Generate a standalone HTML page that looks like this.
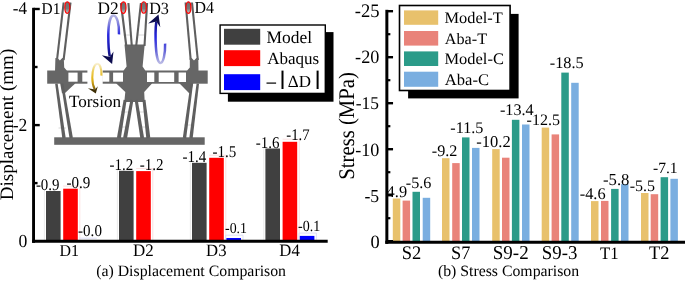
<!DOCTYPE html>
<html><head><meta charset="utf-8"><style>
html,body{margin:0;padding:0;background:#fff;}
body{width:685px;height:281px;overflow:hidden;font-family:"Liberation Serif", serif;}
svg{display:block;will-change:transform;text-rendering:geometricPrecision;}
</style></head><body>
<svg width="685" height="281" viewBox="0 0 685 281">
<rect x="0" y="0" width="685" height="281" fill="#fff"/>
<rect x="54.20" y="137.30" width="150.50" height="7.50" fill="#666666" />
<line x1="58.5" y1="128" x2="66" y2="128" stroke="#d8d8d8" stroke-width="1"/>
<line x1="121" y1="112" x2="129" y2="112" stroke="#d8d8d8" stroke-width="1"/>
<line x1="119.5" y1="127" x2="126.5" y2="127" stroke="#d8d8d8" stroke-width="1"/>
<line x1="139" y1="112" x2="146" y2="112" stroke="#d8d8d8" stroke-width="1"/>
<line x1="141" y1="127" x2="148.5" y2="127" stroke="#d8d8d8" stroke-width="1"/>
<line x1="184.5" y1="125" x2="191.5" y2="125" stroke="#d8d8d8" stroke-width="1"/>
<line x1="123.5" y1="35" x2="130" y2="35" stroke="#d8d8d8" stroke-width="1"/>
<line x1="138" y1="35" x2="145" y2="35" stroke="#d8d8d8" stroke-width="1"/>
<rect x="47.20" y="70.50" width="160.50" height="13.20" fill="#666666" />
<rect x="68.40" y="72.60" width="9.20" height="9.10" fill="#fff" />
<rect x="82.30" y="72.60" width="5.70" height="9.10" fill="#fff" />
<rect x="102.20" y="72.60" width="7.10" height="9.10" fill="#fff" />
<rect x="113.10" y="72.60" width="9.90" height="9.10" fill="#fff" />
<rect x="147.00" y="72.50" width="7.30" height="9.50" fill="#fff" />
<rect x="158.70" y="72.50" width="15.50" height="9.50" fill="#fff" />
<rect x="178.60" y="72.50" width="7.40" height="9.50" fill="#fff" />
<rect x="87.40" y="69.50" width="15.30" height="15.00" fill="#fff" />
<line x1="63.65" y1="2.50" x2="57.00" y2="60.00" stroke="#5f5f5f" stroke-width="2.1"/>
<line x1="70.50" y1="2.50" x2="63.60" y2="60.00" stroke="#5f5f5f" stroke-width="2.1"/>
<polygon points="55.40,58.00 57.60,58.00 59.90,60.60 62.30,58.00 63.80,58.00 64.20,67.50 66.80,70.60 66.80,72.00 55.00,72.00" fill="#666666"/>
<polygon points="60.00,82.50 75.20,82.50 75.20,83.50 64.80,93.20 62.00,93.20" fill="#666666"/>
<polygon points="55.16,83.77 62.32,138.24 65.68,137.76 57.64,83.43" fill="#5f5f5f"/>
<polygon points="60.97,83.80 69.52,138.28 72.88,137.72 63.43,83.40" fill="#5f5f5f"/>
<polygon points="124.50,44.60 144.70,44.60 142.60,66.50 145.30,70.60 145.30,72.00 123.60,72.00 123.60,70.60 126.60,66.50" fill="#666666"/>
<polygon points="116.30,82.50 152.00,82.50 152.00,83.50 144.20,92.00 144.70,102.00 124.30,102.00 125.30,92.00 116.30,83.50" fill="#666666"/>
<line x1="120.90" y1="3.00" x2="126.30" y2="46.00" stroke="#5f5f5f" stroke-width="2.1"/>
<line x1="128.40" y1="3.00" x2="131.80" y2="46.00" stroke="#5f5f5f" stroke-width="2.1"/>
<line x1="140.90" y1="3.00" x2="136.20" y2="46.00" stroke="#5f5f5f" stroke-width="2.1"/>
<line x1="147.10" y1="3.00" x2="144.50" y2="46.00" stroke="#5f5f5f" stroke-width="2.1"/>
<polygon points="123.62,99.76 116.93,137.68 120.87,138.32 126.58,100.24" fill="#5f5f5f"/>
<polygon points="130.42,99.74 123.13,137.65 127.07,138.35 133.38,100.26" fill="#5f5f5f"/>
<polygon points="134.72,100.23 140.32,138.30 144.08,137.70 137.68,99.77" fill="#5f5f5f"/>
<polygon points="142.51,100.17 146.31,138.22 150.29,137.78 145.49,99.83" fill="#5f5f5f"/>
<line x1="185.60" y1="2.50" x2="190.70" y2="60.00" stroke="#5f5f5f" stroke-width="2.1"/>
<line x1="192.00" y1="2.50" x2="197.80" y2="60.00" stroke="#5f5f5f" stroke-width="2.1"/>
<polygon points="189.80,58.00 191.60,58.00 194.00,60.60 196.40,58.00 198.30,58.00 198.50,72.00 187.20,72.00 187.20,70.60 189.80,67.50" fill="#666666"/>
<polygon points="179.60,82.50 193.20,82.50 193.20,83.50 190.60,93.20 189.20,93.20 179.60,83.50" fill="#666666"/>
<polygon points="190.56,83.43 182.82,137.77 186.18,138.23 193.04,83.77" fill="#5f5f5f"/>
<polygon points="196.56,83.44 189.31,137.79 192.69,138.21 199.04,83.76" fill="#5f5f5f"/>
<linearGradient id="ge" x1="0" y1="0" x2="0" y2="1"><stop offset="0" stop-color="#6c6c6c"/><stop offset="0.6" stop-color="#7a7a7a"/><stop offset="1" stop-color="#c8c8c8"/></linearGradient>
<ellipse cx="67.3" cy="7.55" rx="2.5" ry="5.75" fill="url(#ge)" stroke="#ff0000" stroke-width="1.2"/>
<ellipse cx="123.5" cy="7.7" rx="2.5" ry="5.75" fill="url(#ge)" stroke="#ff0000" stroke-width="1.2"/>
<ellipse cx="143.8" cy="7.5" rx="2.5" ry="5.75" fill="url(#ge)" stroke="#ff0000" stroke-width="1.2"/>
<ellipse cx="188.4" cy="7.6" rx="2.5" ry="5.75" fill="url(#ge)" stroke="#ff0000" stroke-width="1.2"/>
<linearGradient id="gy" gradientUnits="userSpaceOnUse" x1="0" y1="63" x2="0" y2="93"><stop offset="0" stop-color="#faf3dc"/><stop offset="0.12" stop-color="#f3e29c"/><stop offset="0.3" stop-color="#ecca50"/><stop offset="0.55" stop-color="#e3b414"/><stop offset="0.8" stop-color="#a07c10"/><stop offset="1" stop-color="#3a2c06"/></linearGradient>
<path d="M101.4,75.6 C101.7,68 99.8,63.8 97.4,63.8 C94.2,63.8 92.3,70 92.3,77.5 C92.3,83 93.5,87 94.8,89.5" fill="none" stroke="url(#gy)" stroke-width="2.1"/>
<path d="M87.9,88.2 L95.8,93.6 L97.8,86.3 L95.0,89.6 Z" fill="#3d2e05"/>
<linearGradient id="gb1" gradientUnits="userSpaceOnUse" x1="0" y1="15" x2="0" y2="63"><stop offset="0" stop-color="#b8b8e2"/><stop offset="0.18" stop-color="#8282dc"/><stop offset="0.4" stop-color="#2a2ae0"/><stop offset="0.7" stop-color="#1a1ab0"/><stop offset="1" stop-color="#0c0c4e"/></linearGradient>
<path d="M119.0,34.4 C119.4,24 116.8,15.4 113.6,15.4 C110.0,15.4 108.3,25 108.3,36 C108.3,45 108.8,51.5 109.8,56.5" fill="none" stroke="url(#gb1)" stroke-width="2.5"/>
<path d="M101.8,55.3 L112.1,64 L113.5,51.4 L109.9,56.9 Z" fill="#0c0c4e"/>
<linearGradient id="gb2" gradientUnits="userSpaceOnUse" x1="0" y1="15" x2="0" y2="64"><stop offset="0" stop-color="#0c0c4e"/><stop offset="0.2" stop-color="#1818a0"/><stop offset="0.45" stop-color="#2626e0"/><stop offset="0.75" stop-color="#6a6ad8"/><stop offset="1" stop-color="#c0c0e6"/></linearGradient>
<path d="M156.3,21.5 C155.5,28 155.4,38 155.9,47 C156.4,56 158,63 160.4,63 C163.2,63 165.4,54 165.1,43.6" fill="none" stroke="url(#gb2)" stroke-width="2.5"/>
<path d="M148.2,23.4 L158.5,14.5 L160.3,27.3 L156.4,21.6 Z" fill="#0c0c4e"/>
<path d="M44.40,241.2 V190.40" stroke="#e8e8e8" stroke-width="0.9" fill="none"/>
<rect x="46.00" y="191.00" width="14.60" height="50.20" fill="#404040" />
<path d="M63.20,186.10 H79.80 V241.2" stroke="#fadcdc" stroke-width="0.9" fill="none"/>
<rect x="63.20" y="188.70" width="14.60" height="52.50" fill="#ff0000" />
<path d="M78.90,238.2 H96.80" stroke="#dcdcf6" stroke-width="0.9" fill="none"/>
<path d="M117.40,241.2 V170.20" stroke="#e8e8e8" stroke-width="0.9" fill="none"/>
<rect x="119.00" y="170.80" width="14.60" height="70.40" fill="#404040" />
<path d="M136.20,168.50 H152.80 V241.2" stroke="#fadcdc" stroke-width="0.9" fill="none"/>
<rect x="136.20" y="171.10" width="14.60" height="70.10" fill="#ff0000" />
<path d="M190.40,241.2 V162.20" stroke="#e8e8e8" stroke-width="0.9" fill="none"/>
<rect x="192.00" y="162.80" width="14.60" height="78.40" fill="#404040" />
<path d="M209.20,155.20 H225.80 V241.2" stroke="#fadcdc" stroke-width="0.9" fill="none"/>
<rect x="209.20" y="157.80" width="14.60" height="83.40" fill="#ff0000" />
<path d="M225.60,241.2 V235.20 H243.00 V241.2" stroke="#dcdcf6" stroke-width="0.9" fill="none"/>
<rect x="226.40" y="238.00" width="14.60" height="3.20" fill="#0000ff" />
<path d="M263.80,241.2 V147.90" stroke="#e8e8e8" stroke-width="0.9" fill="none"/>
<rect x="265.40" y="148.50" width="14.60" height="92.70" fill="#404040" />
<path d="M282.60,139.20 H299.20 V241.2" stroke="#fadcdc" stroke-width="0.9" fill="none"/>
<rect x="282.60" y="141.80" width="14.60" height="99.40" fill="#ff0000" />
<path d="M299.00,241.2 V233.10 H316.40 V241.2" stroke="#dcdcf6" stroke-width="0.9" fill="none"/>
<rect x="299.80" y="235.90" width="14.60" height="5.30" fill="#0000ff" />
<line x1="33.55" y1="7.8" x2="33.55" y2="242.8" stroke="#000" stroke-width="2.9"/>
<line x1="32.1" y1="241.2" x2="327.7" y2="241.2" stroke="#000" stroke-width="3.1"/>
<line x1="33.55" y1="9.0" x2="39.75" y2="9.0" stroke="#000" stroke-width="2.4"/>
<line x1="33.55" y1="125.1" x2="39.75" y2="125.1" stroke="#000" stroke-width="2.4"/>
<line x1="33.55" y1="67.0" x2="37.55" y2="67.0" stroke="#000" stroke-width="2.4"/>
<line x1="33.55" y1="183.1" x2="37.55" y2="183.1" stroke="#000" stroke-width="2.4"/>
<g font-family='"Liberation Serif", serif' fill="#000">
<text transform="translate(12.72,13.90) scale(1.0000,1.0500)" font-size="17.05">-4</text>
<text transform="translate(12.70,130.90) scale(1.0000,1.0500)" font-size="17.55">-2</text>
<text transform="translate(18.58,247.02) scale(1.0000,1.0500)" font-size="17.70">0</text>
<text transform="translate(13.2,124.5) rotate(-90)" font-size="19" text-anchor="middle">Displacement (mm)</text>
<text transform="translate(59.59,255.67) scale(1.0000,1.0400)" font-size="15.97">D1</text>
<text transform="translate(133.06,255.57) scale(1.0000,1.0400)" font-size="16.96">D2</text>
<text transform="translate(206.07,255.53) scale(1.0000,1.0400)" font-size="16.72">D3</text>
<text transform="translate(279.37,255.87) scale(1.0000,1.0400)" font-size="16.73">D4</text>
<text transform="translate(35.90,189.67) scale(1.0000,1.1000)" font-size="14.88">-0.9</text>
<text transform="translate(66.49,187.87) scale(1.0000,1.1000)" font-size="15.08">-0.9</text>
<text transform="translate(78.09,235.67) scale(1.0000,1.1000)" font-size="15.05">-0.0</text>
<text transform="translate(109.49,169.77) scale(1.0000,1.1000)" font-size="14.96">-1.2</text>
<text transform="translate(139.69,169.77) scale(1.0000,1.1000)" font-size="15.03">-1.2</text>
<text transform="translate(182.49,161.97) scale(1.0000,1.1000)" font-size="15.03">-1.4</text>
<text transform="translate(212.49,156.97) scale(1.0000,1.1000)" font-size="15.06">-1.5</text>
<text transform="translate(225.04,232.78) scale(1.0000,1.1000)" font-size="13.86">-0.1</text>
<text transform="translate(255.79,147.97) scale(1.0000,1.1000)" font-size="14.97">-1.6</text>
<text transform="translate(286.30,140.47) scale(1.0000,1.1000)" font-size="14.77">-1.7</text>
<text transform="translate(298.03,231.08) scale(1.0000,1.1000)" font-size="14.00">-0.1</text>
<text transform="translate(41.51,14.27) scale(1.0000,1.0600)" font-size="15.44">D1</text>
<text transform="translate(97.55,13.87) scale(1.0000,1.0200)" font-size="17.31">D2</text>
<text transform="translate(149.18,13.73) scale(1.0000,1.0600)" font-size="16.20">D3</text>
<text transform="translate(194.59,13.07) scale(1.0000,1.0600)" font-size="15.96">D4</text>
<text transform="translate(69.04,107.43) scale(1.0000,1.0000)" font-size="17.12">Torsion</text>
<text transform="translate(96.15,276.40) scale(1.0000,1.0000)" font-size="15.83">(a) Displacement Comparison</text>
</g>
<rect x="227.90" y="32.10" width="105.60" height="69.60" fill="#000" />
<rect x="220.1" y="25.0" width="105.2" height="68.4" fill="#fff" stroke="#000" stroke-width="1.4"/>
<rect x="224.00" y="28.80" width="36.20" height="15.90" fill="#404040" />
<rect x="224.00" y="50.20" width="36.20" height="15.90" fill="#ff0000" />
<rect x="224.00" y="74.20" width="36.20" height="15.90" fill="#0000ff" />
<g font-family='"Liberation Serif", serif' fill="#000">
<text transform="translate(266.45,42.53) scale(1.0000,1.0000)" font-size="17.45">Model</text>
<text transform="translate(267.18,63.90) scale(1.0000,1.0000)" font-size="17.05">Abaqus</text>
<rect x="266.50" y="82.50" width="9.60" height="1.20" fill="#000" />
<rect x="281.50" y="70.60" width="2.00" height="18.40" fill="#000" />
<rect x="316.60" y="70.60" width="2.00" height="18.40" fill="#000" />
<text transform="translate(287.80,87.37) scale(1.0000,1.0000)" font-size="17.01">ΔD</text>
</g>
<clipPath id="clipR"><rect x="386.6" y="0" width="300" height="281"/></clipPath>
<rect x="392.80" y="198.50" width="7.50" height="43.70" fill="#e8c16c" />
<rect x="402.60" y="200.60" width="7.50" height="41.60" fill="#e9837a" />
<rect x="412.50" y="191.80" width="7.50" height="50.40" fill="#2b9b89" />
<rect x="422.70" y="197.80" width="7.50" height="44.40" fill="#7aaee0" />
<rect x="442.00" y="158.20" width="7.50" height="84.00" fill="#e8c16c" />
<rect x="452.20" y="163.10" width="7.50" height="79.10" fill="#e9837a" />
<rect x="462.00" y="137.40" width="7.50" height="104.80" fill="#2b9b89" />
<rect x="472.00" y="147.90" width="7.50" height="94.30" fill="#7aaee0" />
<rect x="492.20" y="149.10" width="7.50" height="93.10" fill="#e8c16c" />
<rect x="502.00" y="157.70" width="7.50" height="84.50" fill="#e9837a" />
<rect x="511.90" y="119.80" width="7.50" height="122.40" fill="#2b9b89" />
<rect x="522.00" y="124.50" width="7.50" height="117.70" fill="#7aaee0" />
<rect x="541.70" y="127.60" width="7.50" height="114.60" fill="#e8c16c" />
<rect x="551.60" y="134.40" width="7.50" height="107.80" fill="#e9837a" />
<rect x="561.30" y="72.60" width="7.50" height="169.60" fill="#2b9b89" />
<rect x="571.20" y="82.80" width="7.50" height="159.40" fill="#7aaee0" />
<rect x="591.00" y="201.10" width="7.50" height="41.10" fill="#e8c16c" />
<rect x="601.00" y="200.90" width="7.50" height="41.30" fill="#e9837a" />
<rect x="611.10" y="188.90" width="7.50" height="53.30" fill="#2b9b89" />
<rect x="621.00" y="184.20" width="7.50" height="58.00" fill="#7aaee0" />
<rect x="641.00" y="193.00" width="7.50" height="49.20" fill="#e8c16c" />
<rect x="650.70" y="194.20" width="7.50" height="48.00" fill="#e9837a" />
<rect x="660.60" y="177.20" width="7.50" height="65.00" fill="#2b9b89" />
<rect x="670.40" y="178.80" width="7.50" height="63.40" fill="#7aaee0" />
<line x1="386.85" y1="9.8" x2="386.85" y2="243.85" stroke="#000" stroke-width="3.0"/>
<line x1="385.3" y1="242.35" x2="685" y2="242.35" stroke="#000" stroke-width="3.0"/>
<line x1="386.85" y1="241.20" x2="393.05" y2="241.20" stroke="#000" stroke-width="2.4"/>
<line x1="386.85" y1="195.20" x2="393.05" y2="195.20" stroke="#000" stroke-width="2.4"/>
<line x1="386.85" y1="149.20" x2="393.05" y2="149.20" stroke="#000" stroke-width="2.4"/>
<line x1="386.85" y1="103.20" x2="393.05" y2="103.20" stroke="#000" stroke-width="2.4"/>
<line x1="386.85" y1="57.20" x2="393.05" y2="57.20" stroke="#000" stroke-width="2.4"/>
<line x1="386.85" y1="11.20" x2="393.05" y2="11.20" stroke="#000" stroke-width="2.4"/>
<line x1="386.85" y1="218.20" x2="390.35" y2="218.20" stroke="#000" stroke-width="2.2"/>
<line x1="386.85" y1="172.20" x2="390.35" y2="172.20" stroke="#000" stroke-width="2.2"/>
<line x1="386.85" y1="126.20" x2="390.35" y2="126.20" stroke="#000" stroke-width="2.2"/>
<line x1="386.85" y1="80.20" x2="390.35" y2="80.20" stroke="#000" stroke-width="2.2"/>
<line x1="386.85" y1="34.20" x2="390.35" y2="34.20" stroke="#000" stroke-width="2.2"/>
<g font-family='"Liberation Serif", serif' fill="#000">
<text transform="translate(370.45,247.51) scale(1.0000,1.0300)" font-size="18.40">0</text>
<text transform="translate(364.39,201.72) scale(1.0000,1.0300)" font-size="17.71">-5</text>
<text transform="translate(355.18,155.52) scale(1.0000,1.0300)" font-size="18.13">-10</text>
<text transform="translate(355.70,109.02) scale(1.0000,1.0300)" font-size="17.42">-15</text>
<text transform="translate(355.07,62.52) scale(1.0000,1.0300)" font-size="18.21">-20</text>
<text transform="translate(354.76,16.71) scale(1.0000,1.0300)" font-size="18.62">-25</text>
<text transform="translate(354.0,125.95) rotate(-90) scale(1,1.08)" font-size="20.7" text-anchor="middle">Stress (MPa)</text>
<text transform="translate(401.71,259.01) scale(1.0000,1.0400)" font-size="18.52">S2</text>
<text transform="translate(451.02,259.01) scale(1.0000,1.0400)" font-size="18.32">S7</text>
<text transform="translate(492.78,259.01) scale(1.0000,1.0400)" font-size="19.01">S9-2</text>
<text transform="translate(541.79,259.01) scale(1.0000,1.0400)" font-size="18.84">S9-3</text>
<text transform="translate(600.05,259.10) scale(1.0000,1.0400)" font-size="16.75">T1</text>
<text transform="translate(649.02,259.20) scale(1.0000,1.0400)" font-size="18.41">T2</text>
<text transform="translate(405.75,187.67) scale(1.0000,1.0000)" font-size="16.16">-5.6</text>
<text transform="translate(431.75,156.47) scale(1.0000,1.0000)" font-size="16.17">-9.2</text>
<text transform="translate(450.35,132.77) scale(1.0000,1.0000)" font-size="16.19">-11.5</text>
<text transform="translate(476.34,146.77) scale(1.0000,1.0000)" font-size="16.53">-10.2</text>
<text transform="translate(499.95,114.77) scale(1.0000,1.0000)" font-size="16.20">-13.4</text>
<text transform="translate(526.56,124.77) scale(1.0000,1.0000)" font-size="16.00">-12.5</text>
<text transform="translate(549.75,68.27) scale(1.0000,1.0000)" font-size="16.29">-18.5</text>
<text transform="translate(579.74,198.97) scale(1.0000,1.0000)" font-size="16.36">-4.6</text>
<text transform="translate(603.03,184.76) scale(1.0000,1.0000)" font-size="16.71">-5.8</text>
<text transform="translate(629.66,190.77) scale(1.0000,1.0000)" font-size="15.99">-5.5</text>
<text transform="translate(652.97,172.78) scale(1.0000,1.0000)" font-size="15.55">-7.1</text>
<g clip-path="url(#clipR)"><text transform="translate(381.16,196.57) scale(1.0000,1.0000)" font-size="16.40">-4.9</text></g>
<text transform="translate(437.96,276.40) scale(1.0000,1.0000)" font-size="15.79">(b) Stress Comparison</text>
</g>
<rect x="408.10" y="13.90" width="110.50" height="84.50" fill="#000" />
<rect x="399.5" y="5.5" width="110.6" height="85.0" fill="#fff" stroke="#000" stroke-width="1.6"/>
<rect x="404.00" y="10.40" width="34.20" height="14.40" fill="#e8c16c" />
<rect x="404.00" y="31.00" width="34.20" height="14.60" fill="#e9837a" />
<rect x="404.00" y="51.40" width="34.20" height="14.60" fill="#2b9b89" />
<rect x="404.00" y="71.70" width="34.20" height="15.10" fill="#7aaee0" />
<g font-family='"Liberation Serif", serif' fill="#000">
<text transform="translate(444.48,22.84) scale(1.0000,0.9800)" font-size="16.39">Model-T</text>
<text transform="translate(444.79,43.84) scale(1.0000,0.9800)" font-size="16.22">Aba-T</text>
<text transform="translate(444.48,64.04) scale(1.0000,0.9800)" font-size="16.47">Model-C</text>
<text transform="translate(444.79,84.84) scale(1.0000,0.9800)" font-size="16.61">Aba-C</text>
</g>
</svg>
</body></html>
